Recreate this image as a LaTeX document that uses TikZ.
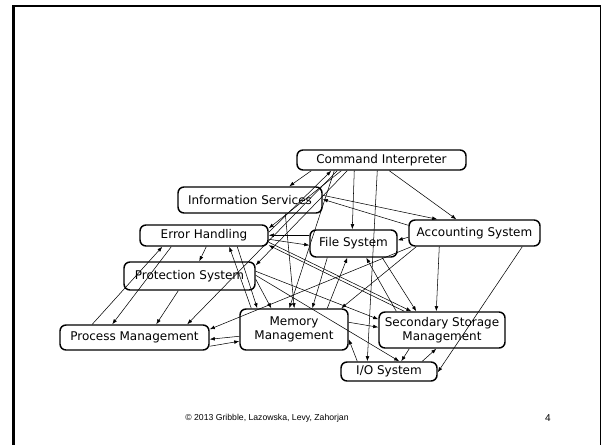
\documentclass[tikz,border=0pt]{standalone}
\usepackage{fontspec}
\setmainfont{DejaVu Sans}
\newfontfamily\footfont{Liberation Sans}
\usetikzlibrary{arrows.meta,calc}

\tikzset{every picture/.style={line width=0.75pt}}
\tikzset{
  sysbox/.style={draw, rounded corners=4.5pt, line width=1.1pt, inner sep=0pt, align=center, font=\fontsize{9}{10.5}\selectfont},
  dep/.style={line width=0.4pt, -{Latex[length=3.8pt,width=2.8pt]}}
}

\begin{document}
\begin{tikzpicture}[x=0.75pt,y=0.75pt,yscale=-1,xscale=1]
\useasboundingbox (0,0) rectangle (602,445);

%Frame
\draw [line width=1.1pt] (13.5,6) -- (600.5,6) -- (600.5,445) ;
\draw [line width=1.8pt] (13.5,445) -- (13.5,5.3) ;

%Rounded Rects
\node [sysbox, minimum width=126.75pt, minimum height=15pt] (ci) at (381.5,160) {Command Interpreter};
\node [sysbox, minimum width=108pt, minimum height=19.5pt] (is) at (250,200) {Information Services};
\node [sysbox, minimum width=96pt, minimum height=15.75pt] (eh) at (204,235.5) {Error Handling};
\node [sysbox, minimum width=65.25pt, minimum height=20.25pt] (fs) at (353.5,243.5) {File System};
\node [sysbox, minimum width=98.25pt, minimum height=19.5pt] (as) at (474.5,233) {Accounting System};
\node [sysbox, minimum width=98.25pt, minimum height=21pt] (ps) at (189.5,276) {Protection System};
\node [sysbox, minimum width=111.75pt, minimum height=18.75pt] (pm) at (134.5,337.5) {Process Management};
\node [sysbox, minimum width=81pt, minimum height=30.75pt] (mm) at (294,329.5) {Memory\\Management};
\node [sysbox, minimum width=94.5pt, minimum height=27pt] (ssm) at (442,330) {Secondary Storage\\Management};
\node [sysbox, minimum width=72pt, minimum height=14.25pt] (io) at (389,371.5) {I/O System};

%Straight Lines from Command Interpreter
\draw [dep] ($(ci.south west)+(15,0)$) -- ($(is.north west)+(112,0)$) ;
\draw [dep] ($(ci.south west)+(45,0)$) -- ($(eh.north east)+(0,4)$) ;
\draw [dep] ($(eh.north east)+(0,8)$) -- ($(ci.south west)+(35,0)$) ;
\draw [dep] ($(ci.south west)+(51,0)$) -- ($(ps.north east)+(0,4)$) ;
\draw [dep] ($(ci.south west)+(41,0)$) -- ($(pm.north west)+(128,0)$) ;
\draw [dep] ($(ci.south west)+(38,0)$) -- ($(mm.north west)+(50,0)$) ;
\draw [dep] ($(ci.south west)+(58,0)$) -- ($(fs.north west)+(43,0)$) ;
\draw [dep] ($(ci.south west)+(81,0)$) -- ($(io.north west)+(27,0)$) ;
\draw [dep] ($(ci.south west)+(93,0)$) -- ($(as.north west)+(48,0)$) ;

%Straight Lines around Information Services and Accounting System
\draw [dep] ($(is.north east)+(0,9)$) -- ($(as.north west)+(29,0)$) ;
\draw [dep] ($(as.north west)+(0,6)$) -- ($(is.north east)+(0,13)$) ;
\draw [dep] ($(as.north west)+(0,18)$) -- ($(fs.north east)+(0,11)$) ;
\draw [dep] ($(is.south west)+(108,0)$) -- ($(mm.north west)+(55,0)$) ;
\draw [dep] ($(as.south west)+(8,0)$) -- ($(mm.north west)+(102,0)$) ;
\draw [dep] ($(as.south west)+(3,0)$) -- ($(pm.north east)+(0,5)$) ;
\draw [dep] ($(as.south west)+(31,0)$) -- ($(ssm.north west)+(58,0)$) ;
\draw [dep] ($(as.south west)+(114,0)$) -- ($(io.north east)+(0,11)$) ;

%Straight Lines around Error Handling
\draw [dep] ($(eh.north east)+(0,15)$) -- ($(fs.north west)+(0,16)$) ;
\draw [dep] ($(fs.north west)+(0,6)$) -- ($(eh.north east)+(0,11)$) ;
\draw [dep] ($(eh.south west)+(67,0)$) -- ($(ps.north west)+(76,0)$) ;
\draw [dep] ($(eh.south west)+(32,0)$) -- ($(pm.north west)+(53,0)$) ;
\draw [dep] ($(pm.north west)+(33,0)$) -- ($(eh.south west)+(23,0)$) ;
\draw [dep] ($(eh.south west)+(98,0)$) -- ($(mm.north west)+(18,0)$) ;
\draw [dep] ($(mm.north west)+(12,0)$) -- ($(eh.south west)+(90,0)$) ;
\draw [dep] ($(eh.north east)+(0,18)$) -- ($(ssm.north west)+(33,0)$) ;
\draw [dep] ($(ssm.north west)+(26,0)$) -- ($(eh.north east)+(0,21)$) ;

%Straight Lines around Protection System
\draw [dep] ($(ps.south west)+(55,0)$) -- ($(pm.north west)+(97,0)$) ;
\draw [dep] ($(ps.north east)+(0,18)$) -- ($(mm.north west)+(32,0)$) ;
\draw [dep] ($(ps.north east)+(0,10)$) -- ($(ssm.north west)+(0,8)$) ;
\draw [dep] ($(ps.north east)+(0,14)$) -- ($(io.north west)+(59,0)$) ;

%Straight Lines around File System
\draw [dep] ($(fs.south west)+(18,0)$) -- ($(mm.north west)+(73,0)$) ;
\draw [dep] ($(mm.north west)+(88,0)$) -- ($(fs.south west)+(38,0)$) ;
\draw [dep] ($(fs.south west)+(73,0)$) -- ($(ssm.north west)+(38,0)$) ;
\draw [dep] ($(ssm.north west)+(18,0)$) -- ($(fs.south west)+(57,0)$) ;

%Straight Lines around Memory Management
\draw [dep] ($(pm.north east)+(0,22)$) -- ($(mm.north west)+(0,33)$) ;
\draw [dep] ($(mm.north west)+(0,28)$) -- ($(pm.north east)+(0,15)$) ;
\draw [dep] ($(mm.north east)+(0,14)$) -- ($(ssm.north west)+(0,16)$) ;
\draw [dep] ($(io.north west)+(17,0)$) -- ($(mm.north east)+(0,31)$) ;

%Straight Lines around I/O System
\draw [dep] ($(ssm.south west)+(31,0)$) -- ($(io.north west)+(61,0)$) ;
\draw [dep] ($(io.north west)+(82,0)$) -- ($(ssm.south west)+(58,0)$) ;

% Text Node
\node [font=\footfont\fontsize{6.5}{8}\selectfont] (credit) at (267,418) {© 2013 Gribble, Lazowska, Levy, Zahorjan};
% Text Node
\node [font=\footfont\fontsize{7.5}{9}\selectfont] (pagenum) at (548,418) {4};

\end{tikzpicture}
\end{document}
